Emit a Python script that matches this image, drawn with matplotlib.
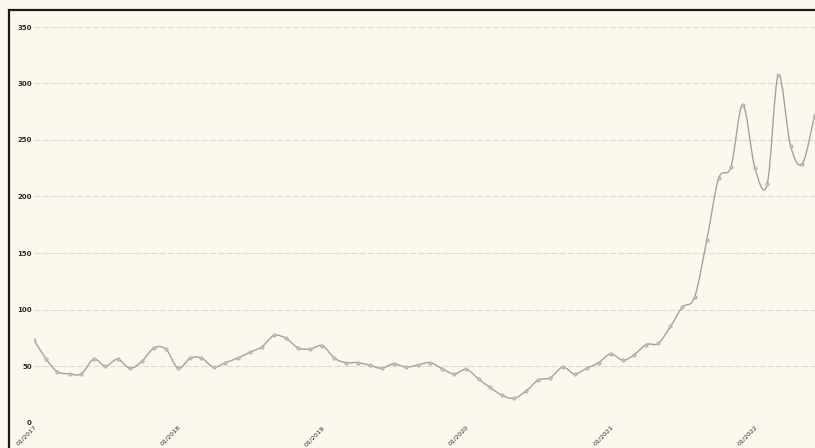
import matplotlib
matplotlib.use("Agg")
import matplotlib.pyplot as plt
import matplotlib.dates as mdates
from matplotlib.patches import Rectangle, PathPatch
from matplotlib.path import Path
import numpy as np
import pandas as pd

# monthly values, 01/2017 .. 06/2022
months = pd.date_range("2017-01-01", periods=66, freq="MS")
values = [
    73, 56, 45, 43, 43, 56, 50, 56, 48, 54, 66, 65,
    48, 57, 57, 49, 53, 57, 62, 67, 77, 74.5, 66, 65,
    68, 57, 53, 53, 50.6, 48, 52, 49, 51, 53, 47.6, 43,
    47, 38.5, 31, 24, 21.4, 28, 37.6, 39.6, 49, 43, 48, 53,
    60.6, 55, 60, 69, 70, 85, 102, 111, 161.5, 216, 226, 281,
    225, 211, 307.5, 245, 229, 272,
]
y_ticks = [0, 50, 100, 150, 200, 250, 300, 350]

paper = "#fbf9ee"
line_col = "#a2a2a0"
W, H = 815, 448


def smooth_path(xs, ys):
    # Excel-style smoothed line: cubic bezier segments through every point
    pts = np.column_stack([xs, ys])
    verts = [pts[0]]
    codes = [Path.MOVETO]
    n = len(pts)
    for i in range(n - 1):
        p0 = pts[i - 1] if i > 0 else pts[i]
        p1, p2 = pts[i], pts[i + 1]
        p3 = pts[i + 2] if i + 2 < n else pts[i + 1]
        verts += [p1 + (p2 - p0) / 6, p2 - (p3 - p1) / 6, p2]
        codes += [Path.CURVE4] * 3
    return Path(verts, codes)


fig = plt.figure(figsize=(W / 100, H / 100), dpi=100, facecolor=paper)

# plot area: left edge at first point, runs past the cropped right side
left_px, right_px = 34, 830
top_px, bottom_px = 27, 422.5
ax = fig.add_axes([left_px / W, (H - bottom_px) / H,
                   (right_px - left_px) / W, (bottom_px - top_px) / H])
ax.set_facecolor(paper)

xnum = mdates.date2num(months)
ax.add_patch(PathPatch(smooth_path(xnum, np.array(values, float)),
                       fill=False, ec=line_col, lw=1.0, zorder=3))
ax.plot(months, values, ls="none", marker="o", ms=2.4,
        mfc="#c4c4c0", mec="#aaaaa6", mew=0.5, zorder=4)

ax.set_ylim(0, 350)
ax.set_yticks(y_ticks)
ax.set_xlim(pd.Timestamp("2017-01-01"), pd.Timestamp("2022-07-10"))
ax.xaxis.set_major_locator(mdates.YearLocator())
ax.xaxis.set_major_formatter(mdates.DateFormatter("%m/%Y"))

ax.grid(axis="y", color="#dcdcd4", lw=0.8, ls=(0, (6, 1.5)))
ax.grid(axis="x", visible=False)
for s in ax.spines.values():
    s.set_visible(False)
ax.tick_params(axis="y", length=0, labelsize=5, labelcolor="#2a2a2a", pad=1.5)
ax.tick_params(axis="x", length=0, labelsize=4.6, labelcolor="#2a2a2a", pad=1.5)
for lbl in ax.get_xticklabels():
    lbl.set_rotation(45)
    lbl.set_ha("right")
    lbl.set_va("top")
    lbl.set_rotation_mode("anchor")
for lbl in ax.get_yticklabels():
    lbl.set_fontweight("bold")

# chart frame (top and left edges visible, rest cropped away)
fig.patches.append(Rectangle((9 / W, -0.1), 1.2, (H - 10) / H + 0.1,
                             transform=fig.transFigure, fill=False,
                             ec="#1a1a1a", lw=1.6, zorder=0))

fig.savefig("out.png", dpi=100, facecolor=paper)
